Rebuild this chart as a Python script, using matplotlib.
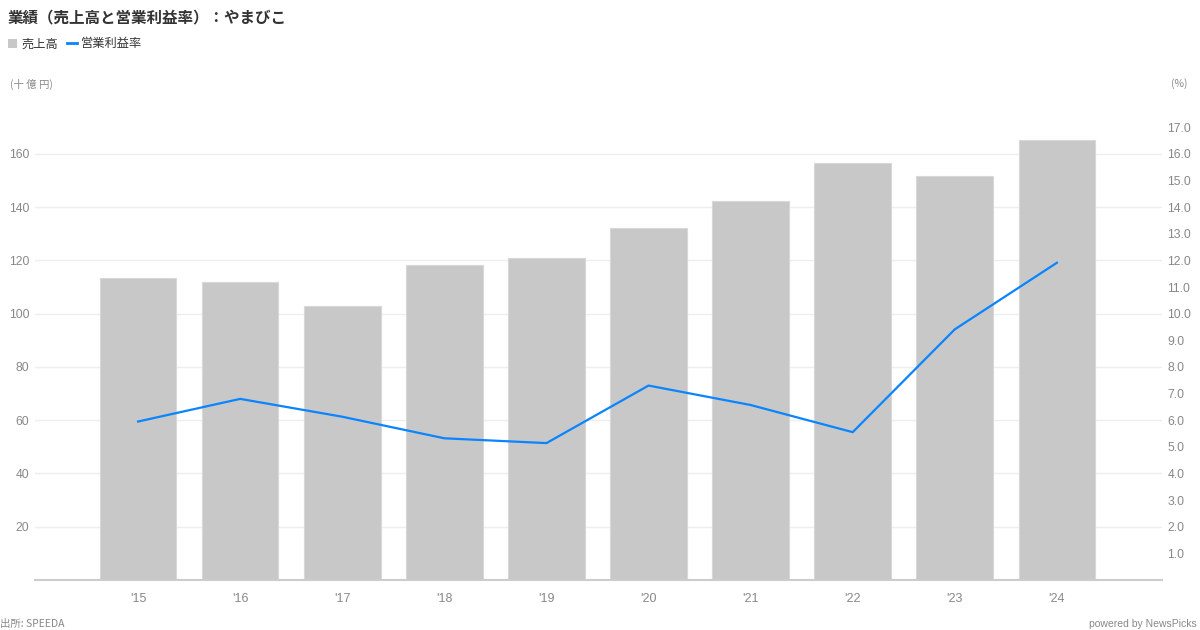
import matplotlib
matplotlib.use("Agg")
import matplotlib.pyplot as plt
from matplotlib.patches import Patch
from matplotlib.lines import Line2D

plt.rcParams['font.family'] = ['Liberation Sans', 'Noto Sans CJK JP', 'DejaVu Sans']

years = ["'15", "'16", "'17", "'18", "'19", "'20", "'21", "'22", "'23", "'24"]
sales = [113.4, 112.0, 102.9, 118.2, 120.9, 132.0, 142.4, 156.4, 151.6, 165.1]
op_margin = [5.95, 6.80, 6.13, 5.32, 5.14, 7.30, 6.57, 5.55, 9.41, 11.91]
left_ticks = [20, 40, 60, 80, 100, 120, 140, 160]
right_ticks = [1, 2, 3, 4, 5, 6, 7, 8, 9, 10, 11, 12, 13, 14, 15, 16, 17]

title = "業績（売上高と営業利益率）：やまびこ"
bar_name = "売上高"
line_name = "営業利益率"

BAR = "#c8c8c8"
LINE = "#0a84ff"
TICK = "#888888"
GRID = "#eeeeee"

fig = plt.figure(figsize=(12, 6.3), dpi=100)
ax = fig.add_axes([35/1200, 1-580/630, (1162-35)/1200, (580-127.2)/630])
x = list(range(len(years)))
ax.bar(x, sales, width=0.75, color=BAR, edgecolor="#d8d8d8", linewidth=0.8, zorder=2)
ax.set_xlim(-1.01, 10.03)
ax.set_ylim(0, 170)
ax.set_yticks(left_ticks)
ax.set_yticklabels([str(t) for t in left_ticks])
ax.set_xticks(x)
ax.set_xticklabels(years)
ax.grid(axis='y', color=GRID, linewidth=1, zorder=0)
ax.set_axisbelow(True)
for s in ['top', 'left', 'right']:
    ax.spines[s].set_visible(False)
ax.spines['bottom'].set_color('#cccccc')
ax.spines['bottom'].set_linewidth(1.5)
ax.tick_params(axis='y', length=0, pad=4, labelsize=8.7, labelcolor=TICK)
ax.tick_params(axis='x', length=0, pad=9, labelsize=9, labelcolor=TICK)

ax2 = ax.twinx()
ax2.plot(x, op_margin, color=LINE, linewidth=1.6, zorder=3)
ax2.set_ylim(0, 17)
ax2.set_yticks(right_ticks)
ax2.set_yticklabels([f"{t:.1f}" for t in right_ticks])
for s in ['top', 'left', 'right', 'bottom']:
    ax2.spines[s].set_visible(False)
ax2.tick_params(axis='y', length=0, pad=4, labelsize=8.7, labelcolor=TICK)

fig.text(8/1200, 1-17/630, title, fontsize=11.2, fontweight='bold', color='#333333',
         va='center', ha='left', family=['Noto Sans CJK JP', 'DejaVu Sans'])

handles = [Patch(facecolor=BAR, edgecolor='none', label=bar_name),
           Line2D([0], [0], color=LINE, linewidth=2, label=line_name)]
leg = fig.legend(handles=handles, loc='center left', bbox_to_anchor=(4/1200, 1-44/630),
                 ncol=2, frameon=False, handlelength=0.8, handleheight=0.8,
                 handletextpad=0.35, columnspacing=0.7, borderaxespad=0, borderpad=0.3,
                 prop={'family': ['Noto Sans CJK JP', 'DejaVu Sans'], 'size': 8.8})
for t in leg.get_texts():
    t.set_color('#333333')

fig.text(10/1200, 1-84/630, "(十 億 円)", fontsize=7.5, color=TICK, va='center', ha='left',
         family=['Noto Sans CJK JP', 'DejaVu Sans'])
fig.text(1188/1200, 1-84/630, "(%)", fontsize=7.5, color=TICK, va='center', ha='right',
         family=['Noto Sans CJK JP', 'DejaVu Sans'])
fig.text(0/1200, 1-624/630, "出所: SPEEDA", fontsize=7.5, color=TICK, va='center', ha='left',
         family=['Noto Sans CJK JP', 'DejaVu Sans'])
fig.text(1197/1200, 1-624/630, "powered by NewsPicks", fontsize=7.5, color=TICK, va='center',
         ha='right', family=['Liberation Sans', 'DejaVu Sans'])

fig.savefig("out.png", dpi=100)
